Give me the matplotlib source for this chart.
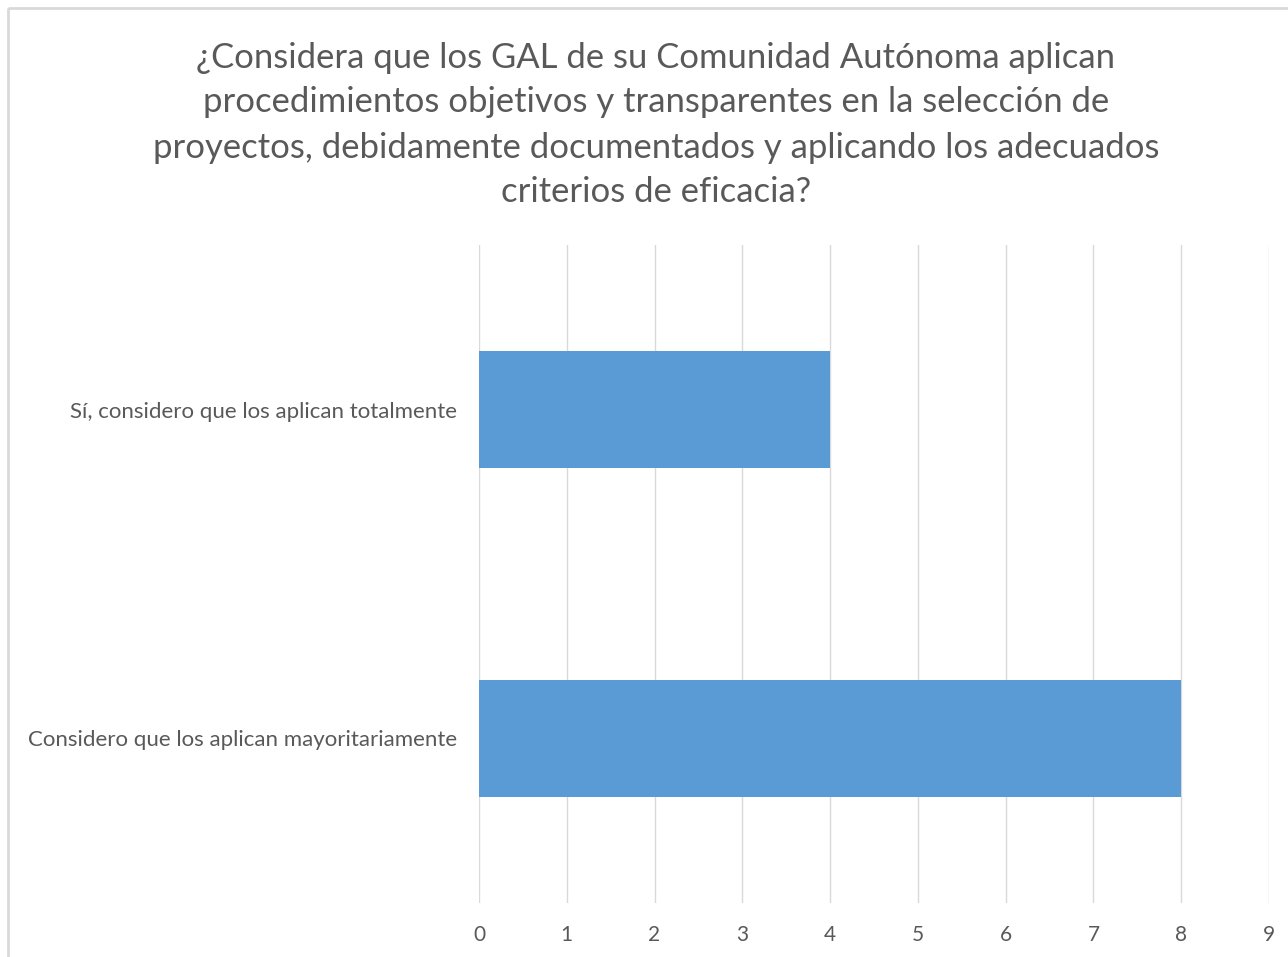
import matplotlib
matplotlib.use("Agg")
import matplotlib.pyplot as plt
from matplotlib.patches import Rectangle

categories = ["Considero que los aplican mayoritariamente", "Sí, considero que los aplican totalmente"]
values = [8, 4]
xticks = list(range(0, 10))
title = ("¿Considera que los GAL de su Comunidad Autónoma aplican\n"
         "procedimientos objetivos y transparentes en la selección de\n"
         "proyectos, debidamente documentados y aplicando los adecuados\n"
         "criterios de eficacia?")

plt.rcParams['font.family'] = ['Lato', 'DejaVu Sans']
W, H = 1288, 957
fig = plt.figure(figsize=(W / 100, H / 100), dpi=100)
ax = fig.add_axes([479 / W, 1 - 903 / H, (1269 - 479) / W, (903 - 245) / H])

ax.barh(range(len(categories)), values, height=0.353, color="#5B9BD5", zorder=3)
ax.set_xlim(0, 9)
ax.set_ylim(-0.5, 1.5)
ax.set_xticks(xticks)
ax.set_xticklabels([str(t) for t in xticks])
ax.set_yticks(range(len(categories)))
ax.set_yticklabels(categories)
ax.grid(axis="x", color="#D9D9D9", linewidth=1.0, zorder=0)
for s in ax.spines.values():
    s.set_visible(False)
ax.tick_params(axis="both", length=0, colors="#595959")
ax.tick_params(axis="y", pad=16, labelsize=16)
ax.tick_params(axis="x", pad=16, labelsize=15)

fig.text(656 / W, 1 - 125 / H, title, ha="center", va="center", fontsize=24.9,
         color="#595959", linespacing=1.5)

rect = Rectangle((8, 8), W + 20, H + 20, fill=False,
                 edgecolor="#D9D9D9", linewidth=2, figure=fig,
                 transform=matplotlib.transforms.Affine2D().scale(1, -1).translate(0, H))
fig.patches.append(rect)

fig.savefig("out.png", dpi=100)
